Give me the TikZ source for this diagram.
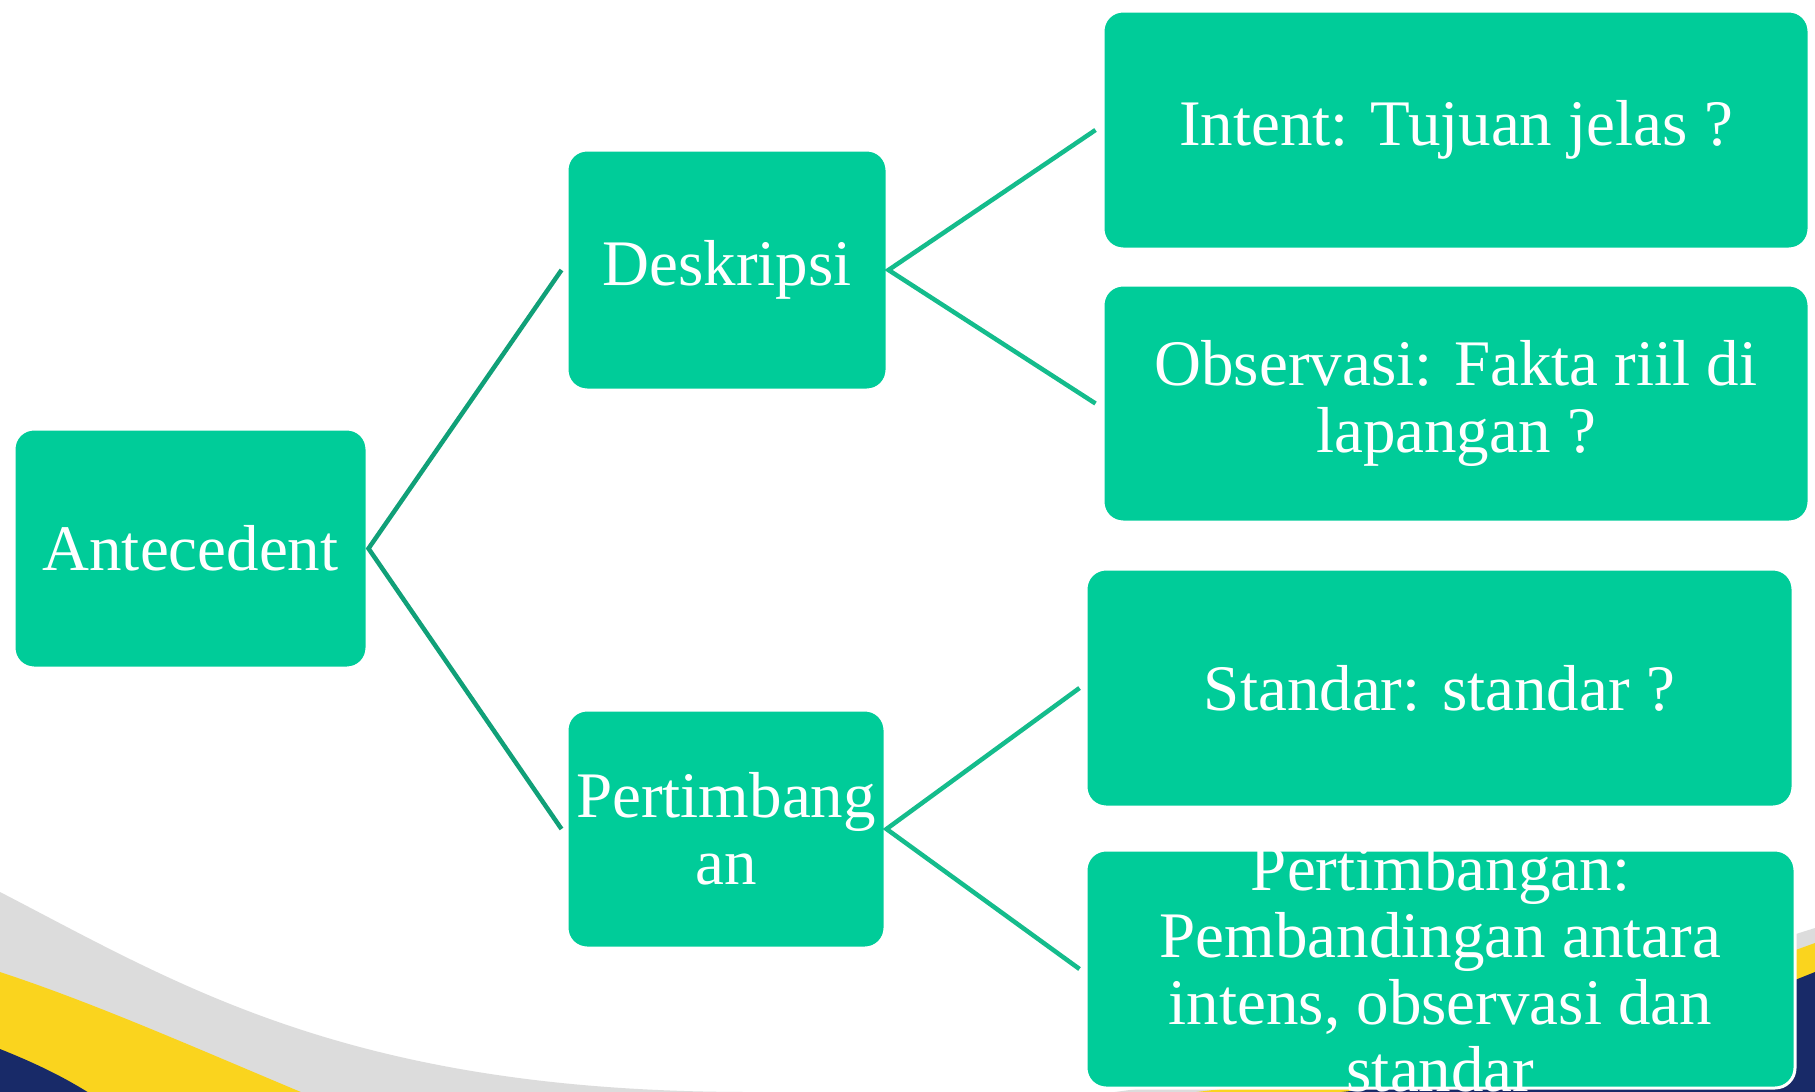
\documentclass[tikz,border=0pt]{standalone}
\usepackage{fontspec}
\setmainfont{Liberation Serif}
\definecolor{boxg}{RGB}{0,204,153}
\definecolor{lineL}{RGB}{16,160,120}
\definecolor{lineR}{RGB}{20,188,140}
\definecolor{navyb}{RGB}{24,42,104}
\definecolor{sunb}{RGB}{250,212,30}
\definecolor{greyb}{RGB}{220,220,220}
\begin{document}
\begin{tikzpicture}[x=1pt,y=-1pt,
  gbox/.style={draw=white, line width=3pt, fill=boxg, rounded corners=20pt,
    inner sep=0pt, text=white, align=center, font=\fontsize{65}{67}\selectfont},
  gtext/.style={text=white, align=center, inner sep=0pt, font=\fontsize{65}{67}\selectfont},
  connL/.style={draw=lineL, line width=4.5pt},
  connR/.style={draw=lineR, line width=4.5pt}]
\useasboundingbox (0,0) rectangle (1815,1092);
\clip (0,0) rectangle (1815,1092);
\fill[white] (0,0) rectangle (1815,1092);
% background bands, bottom left
\fill[greyb] (0,892) .. controls (180,985) and (350,1092) .. (750,1092) -- (1050,1093) -- (0,1100) -- cycle;
\fill[sunb] (0,972) .. controls (100,1005) and (200,1050) .. (320,1100) -- (0,1100) -- cycle;
\fill[navyb] (0,1049) .. controls (40,1065) and (70,1080) .. (100,1100) -- (0,1100) -- cycle;
% background bands, bottom right
\fill[greyb] (1050,1100) .. controls (1400,1060) and (1650,980) .. (1815,928) -- (1815,1100) -- cycle;
\fill[sunb] (1120,1100) .. controls (1450,1070) and (1680,992) .. (1815,943) -- (1815,1100) -- cycle;
\fill[navyb] (1250,1100) .. controls (1550,1080) and (1720,1010) .. (1815,972) -- (1815,1100) -- cycle;
% boxes
\node[gbox, minimum width=353pt, minimum height=239pt] (ante) at (190.5,548.5) {Antecedent};
\node[gbox, minimum width=320pt, minimum height=240pt] (desk) at (727,270) {Deskripsi};
\node[gbox, minimum width=318pt, minimum height=238pt] (pert) at (726,829) {Pertimbang\\an};
\node[gbox, minimum width=706pt, minimum height=238pt] (intent) at (1456,130) {Intent: Tujuan jelas ?};
\node[gbox, minimum width=706pt, minimum height=237pt] (obs) at (1456,403.5) {Observasi: Fakta riil di\\lapangan ?};
\node[gbox, minimum width=707pt, minimum height=238pt] (std) at (1439.5,688) {Standar: standar ?};
\node[gbox, minimum width=709pt, minimum height=238pt] (lng) at (1440.5,969) {};
\node[gtext] (lngtext) at (lng.center) {Pertimbangan:\\Pembandingan antara\\intens, observasi dan\\standar};
% connectors
\draw[connL] ([xshift=-4pt]desk.west) -- (ante.east) -- ([xshift=-4pt]pert.west);
\draw[connR] ([xshift=-6pt]intent.west) -- (desk.east) -- ([xshift=-6pt]obs.west);
\draw[connR] ([xshift=-5pt]std.west) -- (pert.east) -- ([xshift=-5pt]lng.west);
\end{tikzpicture}
\end{document}
